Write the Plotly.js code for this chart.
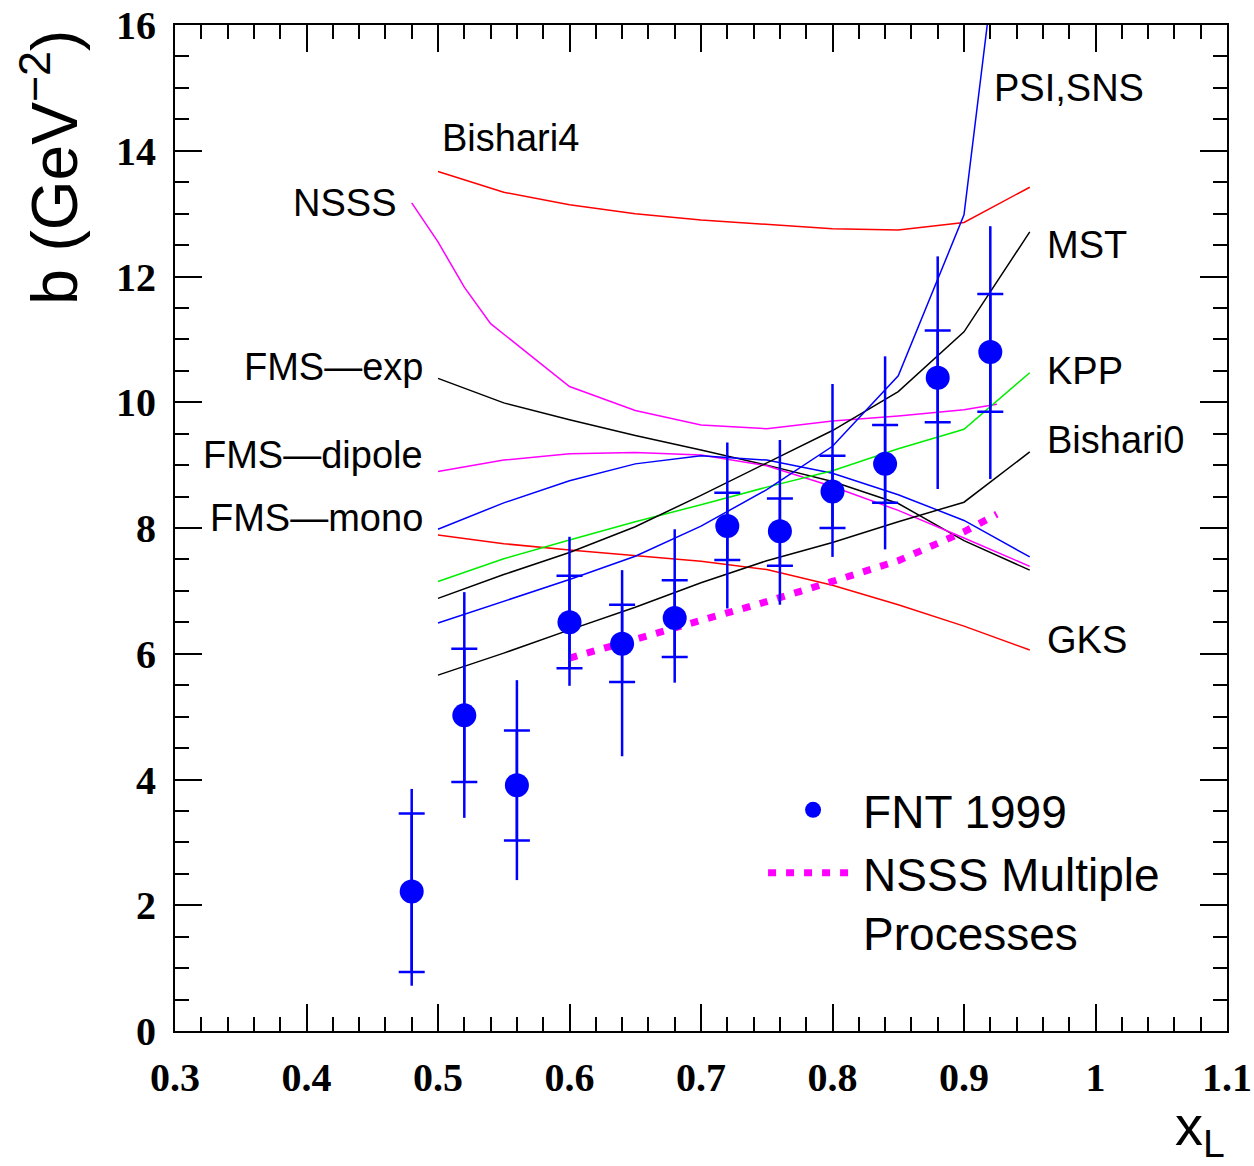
<!DOCTYPE html>
<html>
<head>
<meta charset="utf-8">
<script src="https://cdn.plot.ly/plotly-3.0.1.min.js"></script>
<style>html,body{margin:0;padding:0;background:#fff;}#chart{width:1254px;height:1166px;}</style>
</head>
<body>
<div id="chart"></div>
<script>
// ---- FNT 1999 data points ----
var xData    = [0.48, 0.52, 0.56, 0.60, 0.64, 0.68, 0.72, 0.76, 0.80, 0.84, 0.88, 0.92];
var bData    = [2.22, 5.02, 3.91, 6.50, 6.16, 6.57, 8.03, 7.95, 8.58, 9.02, 10.39, 10.80];
var innerHi  = [3.46, 6.08, 4.78, 7.24, 6.78, 7.17, 8.56, 8.47, 9.15, 9.64, 11.14, 11.72];
var innerLo  = [0.94, 3.96, 3.03, 5.77, 5.55, 5.95, 7.49, 7.40, 8.00, 8.40, 9.68, 9.85];
var outerHi  = [3.85, 6.98, 5.58, 7.86, 7.33, 7.98, 9.36, 9.40, 10.29, 10.73, 12.32, 12.80];
var outerLo  = [0.72, 3.39, 2.40, 5.49, 4.37, 5.54, 6.72, 6.78, 7.54, 7.66, 8.62, 8.78];

// ---- model curves ----
var xCurve    = [0.50, 0.55, 0.60, 0.65, 0.70, 0.75, 0.80, 0.85, 0.90, 0.95];
var bishari4  = [13.67, 13.34, 13.14, 13.00, 12.90, 12.83, 12.76, 12.74, 12.86, 13.42];
var gks       = [7.89, 7.75, 7.65, 7.56, 7.47, 7.34, 7.09, 6.78, 6.44, 6.06];
var mst       = [6.88, 7.26, 7.61, 8.02, 8.52, 9.03, 9.55, 10.17, 11.12, 12.71];
var kpp       = [7.15, 7.51, 7.81, 8.10, 8.37, 8.65, 8.91, 9.26, 9.57, 10.47];
var bishari0  = [5.66, 6.01, 6.38, 6.74, 7.13, 7.48, 7.77, 8.10, 8.41, 9.21];
var fmsExp    = [10.38, 9.99, 9.72, 9.47, 9.24, 9.00, 8.74, 8.39, 7.80, 7.33];
var fmsDipole = [8.90, 9.08, 9.18, 9.20, 9.16, 8.99, 8.66, 8.28, 7.84, 7.39];
var fmsMono   = [7.98, 8.40, 8.75, 9.02, 9.15, 9.08, 8.87, 8.53, 8.12, 7.54];

var xPsi      = [0.50, 0.55, 0.60, 0.65, 0.70, 0.75, 0.80, 0.85, 0.90, 0.92];
var psiSns    = [6.49, 6.84, 7.18, 7.55, 8.03, 8.61, 9.30, 10.42, 12.98, 16.4];

var xNsss     = [0.48, 0.50, 0.52, 0.54, 0.57, 0.60, 0.65, 0.70, 0.75, 0.80, 0.85, 0.90, 0.925];
var nsss      = [13.17, 12.55, 11.83, 11.25, 10.75, 10.25, 9.87, 9.64, 9.58, 9.70, 9.78, 9.88, 9.97];

var xMulti    = [0.60, 0.65, 0.70, 0.75, 0.80, 0.85, 0.90, 0.925];
var nsssMulti = [5.93, 6.23, 6.52, 6.83, 7.15, 7.48, 7.94, 8.22];

// ---- labels ----
var xTickVals = [0.3, 0.4, 0.5, 0.6, 0.7, 0.8, 0.9, 1.0, 1.1];
var xTickText = ['0.3', '0.4', '0.5', '0.6', '0.7', '0.8', '0.9', '1', '1.1'];
var yTickVals = [0, 2, 4, 6, 8, 10, 12, 14, 16];
var yTickText = ['0', '2', '4', '6', '8', '10', '12', '14', '16'];

function diff(a, b) { return a.map(function (v, i) { return Math.abs(v - b[i]); }); }

function curve(x, y, color, name) {
  return { x: x, y: y, type: 'scatter', mode: 'lines', name: name, showlegend: false,
           line: { color: color, width: 1.5 }, hoverinfo: 'skip' };
}

var traces = [
  curve(xCurve, bishari4, '#ff0000', 'Bishari4'),
  curve(xNsss, nsss, '#ff00ff', 'NSSS'),
  curve(xCurve, fmsExp, '#000000', 'FMS-exp'),
  curve(xCurve, fmsDipole, '#ff00ff', 'FMS-dipole'),
  curve(xCurve, fmsMono, '#0000ff', 'FMS-mono'),
  curve(xCurve, gks, '#ff0000', 'GKS'),
  curve(xCurve, kpp, '#00ee00', 'KPP'),
  curve(xCurve, mst, '#000000', 'MST'),
  curve(xCurve, bishari0, '#000000', 'Bishari0'),
  curve(xPsi, psiSns, '#0000ff', 'PSI,SNS'),
  {
    x: xMulti, y: nsssMulti, type: 'scatter', mode: 'lines', name: 'NSSS Multiple<br>Processes',
    line: { color: '#ff00ff', width: 7, dash: '8px,10px' }
  },
  {
    x: xData, y: bData, type: 'scatter', mode: 'markers', showlegend: false, hoverinfo: 'skip',
    marker: { size: 1, color: 'rgba(0,0,0,0)' },
    error_y: { type: 'data', symmetric: false, array: diff(innerHi, bData), arrayminus: diff(bData, innerLo),
               color: '#0000ff', thickness: 2.5, width: 13 }
  },
  {
    x: xData, y: bData, type: 'scatter', mode: 'markers', name: 'FNT 1999',
    marker: { size: 24, color: '#0000ff' },
    error_y: { type: 'data', symmetric: false, array: diff(outerHi, bData), arrayminus: diff(bData, outerLo),
               color: '#0000ff', thickness: 2.5, width: 0 }
  }
];

var labFont = { family: 'Liberation Sans, Arial, sans-serif', size: 38, color: '#000' };
function lab(text, x, y, anchor) {
  return { text: text, x: x, y: y, xref: 'x', yref: 'y', xanchor: anchor, yanchor: 'middle',
           showarrow: false, font: labFont };
}

var layout = {
  width: 1254, height: 1166,
  paper_bgcolor: '#ffffff', plot_bgcolor: '#ffffff',
  margin: { l: 175, r: 27, t: 25, b: 135 },
  showlegend: true,
  legend: {
    x: 0.559, y: 0.256, xanchor: 'left', yanchor: 'top',
    font: { family: 'Liberation Sans, Arial, sans-serif', size: 46, color: '#000' },
    bgcolor: 'rgba(0,0,0,0)', itemwidth: 90, valign: 'top', traceorder: 'reversed'
  },
  xaxis: {
    range: [0.3, 1.1], showgrid: false, zeroline: false,
    showline: true, linecolor: '#000', linewidth: 2, mirror: 'allticks',
    ticks: 'inside', ticklen: 27, tickwidth: 2, tickcolor: '#000',
    tickvals: xTickVals, ticktext: xTickText, ticklabelstandoff: 10,
    tickfont: { family: 'Liberation Serif, Times New Roman, serif', size: 40, color: '#000', weight: 'bold' },
    minor: { dtick: 0.02, tick0: 0.3, ticks: 'inside', ticklen: 14, tickwidth: 2, tickcolor: '#000', showgrid: false }
  },
  yaxis: {
    range: [0, 16], showgrid: false, zeroline: false,
    showline: true, linecolor: '#000', linewidth: 2, mirror: 'allticks',
    ticks: 'inside', ticklen: 27, tickwidth: 2, tickcolor: '#000',
    tickvals: yTickVals, ticktext: yTickText, ticklabelstandoff: 9,
    tickfont: { family: 'Liberation Serif, Times New Roman, serif', size: 40, color: '#000', weight: 'bold' },
    minor: { dtick: 0.5, tick0: 0, ticks: 'inside', ticklen: 14, tickwidth: 2, tickcolor: '#000', showgrid: false }
  },
  annotations: [
    lab('PSI,SNS', 0.9213, 15.0, 'left'),
    lab('Bishari4', 0.5015, 14.2, 'left'),
    lab('NSSS', 0.4696, 13.17, 'right'),
    lab('MST', 0.9616, 12.5, 'left'),
    lab('FMS\u2014exp', 0.4901, 10.56, 'right'),
    lab('KPP', 0.9616, 10.5, 'left'),
    lab('Bishari0', 0.9616, 9.4, 'left'),
    lab('FMS\u2014dipole', 0.4901, 9.16, 'right'),
    lab('FMS\u2014mono', 0.4901, 8.16, 'right'),
    lab('GKS', 0.9616, 6.22, 'left'),
    { text: 'b (GeV<sup>\u22122</sup>)', xref: 'paper', yref: 'paper', x: -0.1188, y: 0.858,
      xanchor: 'center', yanchor: 'middle', textangle: -90, showarrow: false,
      font: { family: 'Liberation Sans, Arial, sans-serif', size: 64, color: '#000' } },
    { text: 'x<sub>L</sub>', xref: 'paper', yref: 'paper', x: 1.0, y: -0.098,
      xanchor: 'right', yanchor: 'middle', showarrow: false,
      font: { family: 'Liberation Sans, Arial, sans-serif', size: 56, color: '#000' } }
  ]
};

Plotly.newPlot('chart', traces, layout, { displayModeBar: false, staticPlot: true });
</script>
</body>
</html>
